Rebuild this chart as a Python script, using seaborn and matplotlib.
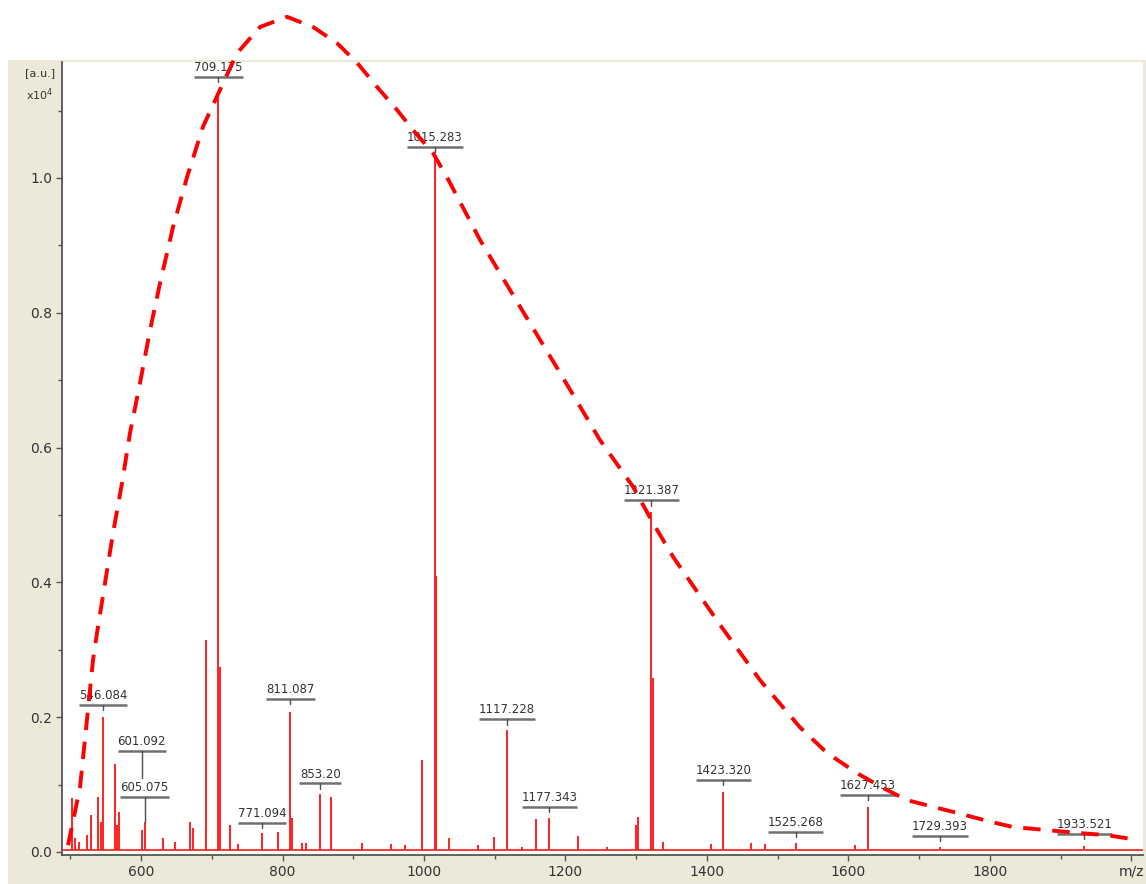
import matplotlib
matplotlib.use("Agg")
import matplotlib.pyplot as plt
from matplotlib.patches import Rectangle
from matplotlib.ticker import MultipleLocator
import seaborn as sns

# --- Data (intensity in units of 10^4 a.u.) ---
peak_mz = [502.5, 506, 513, 523.7, 529, 539, 543.5, 546.084, 563, 566, 569,
           601.092, 605.075, 631, 648, 669, 673, 692, 709.175, 711.7, 726, 737,
           771.094, 793.6, 811.087, 813, 827.5, 833, 853.20, 868.5, 912, 953, 973,
           997, 1015.283, 1017.3, 1035, 1076, 1099, 1117.228, 1138.5, 1158,
           1177.343, 1217.7, 1258.7, 1300, 1302, 1321.387, 1323.4, 1338,
           1405.6, 1423.320, 1462, 1482, 1525.268, 1609, 1627.453, 1642,
           1729.393, 1933.521]
peak_int = [0.080, 0.020, 0.015, 0.025, 0.055, 0.082, 0.045, 0.200, 0.130, 0.040, 0.060,
            0.033, 0.045, 0.020, 0.015, 0.045, 0.035, 0.315, 1.120, 0.275, 0.040, 0.012,
            0.028, 0.029, 0.208, 0.050, 0.013, 0.013, 0.086, 0.082, 0.013, 0.012, 0.010,
            0.137, 1.030, 0.410, 0.020, 0.010, 0.022, 0.181, 0.008, 0.049,
            0.050, 0.024, 0.008, 0.040, 0.052, 0.505, 0.258, 0.015,
            0.012, 0.089, 0.014, 0.012, 0.013, 0.010, 0.067, 0.005,
            0.007, 0.009]

label_mz = [546.084, 601.092, 605.075, 709.175, 771.094, 811.087, 853.20,
            1015.283, 1117.228, 1177.343, 1321.387, 1423.320, 1525.268,
            1627.453, 1729.393, 1933.521]
label_text = ["546.084", "601.092", "605.075", "709.175", "771.094", "811.087",
              "853.20", "1015.283", "1117.228", "1177.343", "1321.387",
              "1423.320", "1525.268", "1627.453", "1729.393", "1933.521"]
label_y = [0.218, 0.150, 0.082, 1.150, 0.043, 0.227, 0.102, 1.046, 0.197,
           0.067, 0.522, 0.107, 0.030, 0.085, 0.024, 0.027]
label_tick_end = [0.210, 0.110, 0.045, 1.142, 0.036, 0.219, 0.094, 1.038, 0.189,
                  0.059, 0.514, 0.099, 0.022, 0.077, 0.016, 0.019]

# hand-drawn envelope over the spectrum
curve_mz = [496.8, 513.8, 532.2, 537.8, 549.1, 560.4, 573.1, 584.5, 598.6, 612.7,
            626.9, 645.2, 665.0, 687.6, 711.7, 735.7, 768.2, 806.4, 843.1, 877.0,
            905.3, 933.6, 961.8, 984.5, 1012.7, 1032.5, 1079.2, 1135.7, 1192.2,
            1248.8, 1295.4, 1323.7, 1352.0, 1418.4, 1474.9, 1531.4, 1569.6, 1612.0,
            1648.8, 1682.7, 1719.4, 1753.4, 1800.0, 1832.5, 1874.9, 1927.2, 1965.4,
            2007.8]
curve_int = [0.010, 0.096, 0.285, 0.325, 0.399, 0.473, 0.547, 0.622, 0.696, 0.774,
             0.844, 0.927, 1.001, 1.076, 1.131, 1.185, 1.224, 1.239, 1.224, 1.200,
             1.171, 1.135, 1.101, 1.071, 1.037, 1.001, 0.908, 0.809, 0.711,
             0.611, 0.542, 0.488, 0.438, 0.337, 0.255, 0.185, 0.147, 0.117,
             0.095, 0.077, 0.067, 0.058, 0.045, 0.037, 0.033, 0.028, 0.025,
             0.018]

# --- Style ---
sns.set_style("white")
plt.rcParams['font.family'] = ['DejaVu Sans']

W, H = 1146, 884
fig = plt.figure(figsize=(W / 100, H / 100), dpi=100)
fig.patches.append(Rectangle((8 / W, 0), 1, (H - 60) / H, transform=fig.transFigure,
                             facecolor='#ECE9D8', edgecolor='none', zorder=-5))
ax = fig.add_axes([62 / W, 29 / H, (1143 - 62) / W, (855 - 62) / H])
ax.set_facecolor('white')

# spectrum sticks + baseline
ax.plot([490, 2016], [0.003, 0.003], color='#ff2a2a', lw=1.3, zorder=2)
ax.vlines(peak_mz, 0.003, peak_int, color='#ff2020', lw=1.4, zorder=2)

# peak labels with underline and pointer
for mz, txt, ly, te in zip(label_mz, label_text, label_y, label_tick_end):
    half = 4.9 * len(txt)
    ax.plot([mz - half, mz + half], [ly, ly], color='#707070', lw=1.8,
            solid_capstyle='butt', zorder=3)
    ax.plot([mz, mz], [ly, te], color='#505050', lw=1.0, zorder=3)
    ax.text(mz, ly + 0.004, txt, ha='center', va='bottom', fontsize=8.5,
            color='#333333', zorder=3)

# dashed envelope
sns.lineplot(x=curve_mz, y=curve_int, sort=False, estimator=None, ax=ax,
             color='#ff0000', lw=2.8, linestyle=(0, (4.5, 3)), clip_on=False,
             zorder=5)

ax.set_xlim(488.3, 2016.3)
ax.set_ylim(-0.0045, 1.172)
ax.set_xticks([600, 800, 1000, 1200, 1400, 1600, 1800, 2000])
ax.set_xticklabels(['600', '800', '1000', '1200', '1400', '1600', '1800', 'm/z'])
ax.set_yticks([0.0, 0.2, 0.4, 0.6, 0.8, 1.0])
ax.set_yticklabels(['0.0', '0.2', '0.4', '0.6', '0.8', '1.0'])
ax.xaxis.set_minor_locator(MultipleLocator(100))
ax.yaxis.set_minor_locator(MultipleLocator(0.1))
ax.tick_params(which='major', direction='out', length=4, width=1, colors='#555555',
               labelsize=10, labelcolor='#333333', bottom=True, left=True, pad=3)
ax.tick_params(which='minor', direction='out', length=3, width=1, colors='#555555',
               bottom=True, left=True)
for s in ['top', 'right']:
    ax.spines[s].set_visible(False)
for s in ['left', 'bottom']:
    ax.spines[s].set_color('#555555')
    ax.spines[s].set_linewidth(1.3)
ax.set_xlabel('')
ax.set_ylabel('')

fig.text(40 / W, 1 - 73 / H, '[a.u.]', ha='center', va='center', fontsize=8, color='#333333')
fig.text(40 / W, 1 - 95 / H, 'x10$^4$', ha='center', va='center', fontsize=8, color='#333333')

fig.savefig('out.png', dpi=100)
